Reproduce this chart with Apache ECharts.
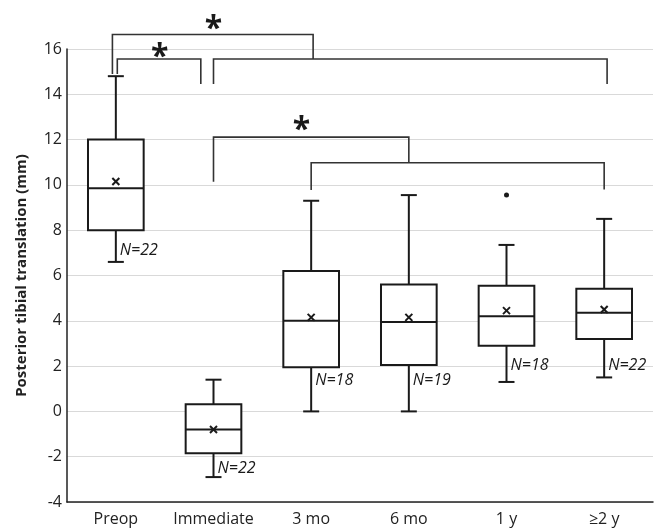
<!DOCTYPE html>
<html>
<head>
<meta charset="utf-8">
<script src="https://cdn.jsdelivr.net/npm/echarts@6/dist/echarts.min.js"></script>
<style>
  html, body { margin: 0; padding: 0; background: #fff; }
  #main { width: 666px; height: 530px; }
</style>
</head>
<body>
<div id="main"></div>
<script>
// categories on the x axis
var categories = ['Preop', 'Immediate', '3 mo', '6 mo', '1 y', '≥2 y'];
// box stats: [min, Q1, median, Q3, max]
var boxStats = [
  [6.6, 8.0, 9.85, 12.0, 14.8],
  [-2.9, -1.85, -0.8, 0.32, 1.4],
  [0.0, 1.95, 4.0, 6.2, 9.3],
  [0.0, 2.05, 3.95, 5.6, 9.55],
  [1.3, 2.9, 4.2, 5.55, 7.35],
  [1.5, 3.2, 4.35, 5.42, 8.5]
];
// means (the little x marks)
var means = [10.15, -0.8, 4.15, 4.15, 4.45, 4.5];
// outliers [category index, value]
var outliers = [[4, 9.55]];
// sample size labels and the value where each sits
var nLabels = ['N=22', 'N=22', 'N=18', 'N=19', 'N=18', 'N=22'];
var nLabelY = [7.1, -2.5, 1.35, 1.35, 2.05, 2.05];
// brackets: [x left, x right, y top, y bottom left, y bottom right] (x in category units)
var brackets = [
  [-0.035, 2.02, 16.64, 14.9, 15.56],
  [0.015, 0.87, 15.56, 14.9, 14.45],
  [1.0, 5.03, 15.56, 14.45, 14.45],
  [1.0, 3.0, 12.11, 10.14, 10.98],
  [2.0, 5.0, 10.98, 9.78, 9.8]
];
// significance stars [x, y]
var stars = [[1.0, 17.2], [0.45, 15.97], [1.9, 12.75]];
var yTicks = { min: -4, max: 16, step: 2 };

var FONT = 'Open Sans';
var chart = echarts.init(document.getElementById('main'));

// x position for a fractional category value
function catX(api, x) {
  var band = api.size([1, 0])[0];
  return api.coord([0, 0])[0] + x * band;
}

var boxData = boxStats.map(function (s, i) { return [i].concat(s).concat([means[i]]); });

var option = {
  animation: false,
  backgroundColor: '#fff',
  grid: { left: 67, right: 13, top: 49, bottom: 28 },
  xAxis: {
    type: 'category',
    data: categories,
    axisLine: { onZero: false, lineStyle: { color: '#222', width: 1.5 } },
    axisTick: { show: false },
    axisLabel: { interval: 0, fontFamily: FONT, fontSize: 16, color: '#222', margin: 9 }
  },
  yAxis: {
    type: 'value',
    min: yTicks.min, max: yTicks.max, interval: yTicks.step,
    name: 'Posterior tibial translation (mm)',
    nameLocation: 'middle',
    nameGap: 38,
    nameTextStyle: { fontFamily: FONT, fontSize: 15, fontWeight: 'bold', color: '#222' },
    axisLine: { show: true, lineStyle: { color: '#222', width: 1.5 } },
    axisTick: { show: false },
    axisLabel: { fontFamily: FONT, fontSize: 16, color: '#222', margin: 5 },
    splitLine: { lineStyle: { color: '#d9d9d9', width: 1.2 } }
  },
  series: [
    {
      type: 'custom',
      name: 'boxes',
      data: boxData,
      encode: { x: 0, y: [1, 2, 3, 4, 5] },
      renderItem: function (params, api) {
        var x = api.value(0);
        var band = api.size([1, 0])[0];
        var cx = api.coord([x, 0])[0];
        var bw = band * 0.57, cap = 8, k = 3.5;
        var y = [1, 2, 3, 4, 5, 6].map(function (d) { return api.coord([x, api.value(d)])[1]; });
        var ls = { stroke: '#1a1a1a', lineWidth: 2, fill: null };
        return {
          type: 'group',
          children: [
            { type: 'line', shape: { x1: cx, y1: y[0], x2: cx, y2: y[1] }, style: ls },
            { type: 'line', shape: { x1: cx, y1: y[3], x2: cx, y2: y[4] }, style: ls },
            { type: 'line', shape: { x1: cx - cap, y1: y[0], x2: cx + cap, y2: y[0] }, style: ls },
            { type: 'line', shape: { x1: cx - cap, y1: y[4], x2: cx + cap, y2: y[4] }, style: ls },
            { type: 'rect', shape: { x: cx - bw / 2, y: y[3], width: bw, height: y[1] - y[3] },
              style: { stroke: '#1a1a1a', lineWidth: 2, fill: '#fff' } },
            { type: 'line', shape: { x1: cx - bw / 2, y1: y[2], x2: cx + bw / 2, y2: y[2] }, style: ls },
            { type: 'line', shape: { x1: cx - k, y1: y[5] - k, x2: cx + k, y2: y[5] + k }, style: ls },
            { type: 'line', shape: { x1: cx - k, y1: y[5] + k, x2: cx + k, y2: y[5] - k }, style: ls }
          ]
        };
      },
      z: 3
    },
    {
      type: 'scatter',
      name: 'outliers',
      data: outliers,
      symbol: 'circle',
      symbolSize: 5,
      itemStyle: { color: '#1a1a1a', opacity: 1 },
      z: 4
    },
    {
      type: 'custom',
      name: 'n',
      data: nLabelY.map(function (v, i) { return [i, v]; }),
      encode: { x: 0, y: 1 },
      renderItem: function (params, api) {
        var p = api.coord([api.value(0), api.value(1)]);
        return {
          type: 'text',
          x: p[0] + 4, y: p[1],
          style: {
            text: nLabels[params.dataIndex], fill: '#1a1a1a',
            font: 'italic 16px "' + FONT + '"',
            align: 'left', verticalAlign: 'middle'
          }
        };
      },
      z: 5
    },
    {
      type: 'custom',
      name: 'brackets',
      data: brackets.map(function (b) { return [0, b[2]]; }),
      encode: { x: 0, y: 1 },
      renderItem: function (params, api) {
        var b = brackets[params.dataIndex];
        var x1 = catX(api, b[0]), x2 = catX(api, b[1]);
        var yT = api.coord([0, b[2]])[1];
        var yL = api.coord([0, b[3]])[1];
        var yR = api.coord([0, b[4]])[1];
        return {
          type: 'polyline',
          shape: { points: [[x1, yL], [x1, yT], [x2, yT], [x2, yR]] },
          style: { stroke: '#333', lineWidth: 1.6, fill: null }
        };
      },
      z: 6
    },
    {
      type: 'custom',
      name: 'stars',
      data: stars.map(function (s) { return [0, s[1]]; }),
      encode: { x: 0, y: 1 },
      renderItem: function (params, api) {
        var s = stars[params.dataIndex];
        return {
          type: 'text',
          x: catX(api, s[0]), y: api.coord([0, s[1]])[1] + 8,
          style: {
            text: '*', fill: '#1a1a1a',
            font: 'bold 32px "' + FONT + '"',
            align: 'center', verticalAlign: 'middle'
          }
        };
      },
      z: 6
    }
  ]
};

chart.setOption(option);
</script>
</body>
</html>
